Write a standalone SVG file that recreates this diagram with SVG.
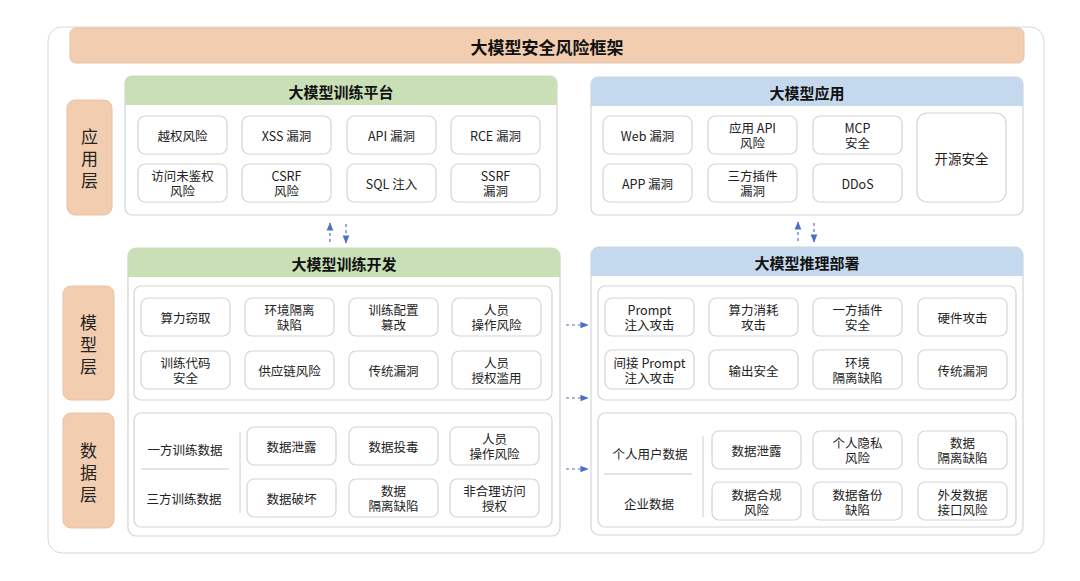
<svg xmlns="http://www.w3.org/2000/svg" width="1080" height="581" viewBox="0 0 1080 581">
<style>
text{font-family:"Noto Sans CJK SC","Noto Sans",sans-serif;fill:#222;text-anchor:middle;dominant-baseline:central}
.b{fill:#fff;stroke:#d4d4d4;stroke-width:1.2}
.t{font-size:12.5px}
.h{font-size:15px;font-weight:bold;fill:#111}
.lay{fill:#f2cdb0;stroke:#e6c4a8}
.ly{font-size:17px}
.c{stroke:#4a72c4;stroke-width:1.2;stroke-dasharray:3 3;fill:none}
.sep{stroke:#ccc;stroke-width:1}
</style>
<defs><marker id="a" viewBox="0 0 10 10" refX="9" refY="5" markerWidth="7" markerHeight="7" orient="auto"><path d="M0,1 L10,5 L0,9z" fill="#4a72c4"/></marker></defs>
<rect width="1080" height="581" fill="#fff"/>
<rect x="48" y="27" width="996" height="526" rx="14" fill="#fff" stroke="#d8d8d8"/>
<g id="title"><rect x="70" y="28" width="954" height="35" rx="6" fill="#f2cdb0" stroke="#e5c3a6"/><text x="547" y="46" class="h" style="font-size:17px">大模型安全风险框架</text></g>
<g id="layers">
<rect class="lay" x="67" y="100" width="45" height="115" rx="8"/><text class="ly" x="89.5" y="135">应</text><text class="ly" x="89.5" y="157">用</text><text class="ly" x="89.5" y="179">层</text>
<rect class="lay" x="63" y="286" width="51" height="114" rx="8"/><text class="ly" x="88.5" y="321">模</text><text class="ly" x="88.5" y="343">型</text><text class="ly" x="88.5" y="365">层</text>
<rect class="lay" x="63" y="413" width="51" height="115" rx="8"/><text class="ly" x="88.5" y="449">数</text><text class="ly" x="88.5" y="471">据</text><text class="ly" x="88.5" y="493">层</text>
</g>
<g id="train-platform">
<rect class="b" x="125" y="76" width="432" height="139" rx="7"/>
<path d="M125,105 V83 a7,7 0 0 1 7,-7 H550 a7,7 0 0 1 7,7 V105z" fill="#c9dfb5"/>
<text class="h" x="341" y="91">大模型训练平台</text>
<rect class="b" x="138" y="116" width="89" height="38" rx="7"/><text class="t" x="182.5" y="135">越权风险</text>
<rect class="b" x="242" y="116" width="89" height="38" rx="7"/><text class="t" x="286.5" y="135">XSS 漏洞</text>
<rect class="b" x="347" y="116" width="89" height="38" rx="7"/><text class="t" x="391.5" y="135">API 漏洞</text>
<rect class="b" x="451" y="116" width="89" height="38" rx="7"/><text class="t" x="495.5" y="135">RCE 漏洞</text>
<rect class="b" x="138" y="164" width="89" height="38" rx="7"/><text class="t" x="182.5" y="175.5">访问未鉴权</text><text class="t" x="182.5" y="190.5">风险</text>
<rect class="b" x="242" y="164" width="89" height="38" rx="7"/><text class="t" x="286.5" y="175.5">CSRF</text><text class="t" x="286.5" y="190.5">风险</text>
<rect class="b" x="347" y="164" width="89" height="38" rx="7"/><text class="t" x="391.5" y="183">SQL 注入</text>
<rect class="b" x="451" y="164" width="89" height="38" rx="7"/><text class="t" x="495.5" y="175.5">SSRF</text><text class="t" x="495.5" y="190.5">漏洞</text>
</g>
<g id="app">
<rect class="b" x="591" y="77" width="432" height="138" rx="7"/>
<path d="M591,106 V84 a7,7 0 0 1 7,-7 H1016 a7,7 0 0 1 7,7 V106z" fill="#c5d9ee"/>
<text class="h" x="807" y="92">大模型应用</text>
<rect class="b" x="603" y="116" width="89" height="38" rx="7"/><text class="t" x="647.5" y="135">Web 漏洞</text>
<rect class="b" x="708" y="116" width="89" height="38" rx="7"/><text class="t" x="752.5" y="127.5">应用 API</text><text class="t" x="752.5" y="142.5">风险</text>
<rect class="b" x="813" y="116" width="89" height="38" rx="7"/><text class="t" x="857.5" y="127.5">MCP</text><text class="t" x="857.5" y="142.5">安全</text>
<rect class="b" x="917" y="113" width="89" height="89" rx="10"/><text class="t" x="961.5" y="157.5" style="font-size:13.5px">开源安全</text>
<rect class="b" x="603" y="164" width="89" height="38" rx="7"/><text class="t" x="647.5" y="183">APP 漏洞</text>
<rect class="b" x="708" y="164" width="89" height="38" rx="7"/><text class="t" x="752.5" y="175.5">三方插件</text><text class="t" x="752.5" y="190.5">漏洞</text>
<rect class="b" x="813" y="164" width="89" height="38" rx="7"/><text class="t" x="857.5" y="183">DDoS</text>
</g>
<g id="train-dev">
<rect class="b" x="128" y="248" width="432" height="288" rx="8"/>
<path d="M128,277 V256 a8,8 0 0 1 8,-8 H552 a8,8 0 0 1 8,8 V277z" fill="#c9dfb5"/>
<text class="h" x="344" y="263">大模型训练开发</text>
<rect class="b" x="134" y="286" width="418" height="114" rx="7"/>
<rect class="b" x="141" y="298" width="89" height="38" rx="7"/><text class="t" x="185.5" y="317">算力窃取</text>
<rect class="b" x="245" y="298" width="89" height="38" rx="7"/><text class="t" x="289.5" y="309.5">环境隔离</text><text class="t" x="289.5" y="324.5">缺陷</text>
<rect class="b" x="349" y="298" width="89" height="38" rx="7"/><text class="t" x="393.5" y="309.5">训练配置</text><text class="t" x="393.5" y="324.5">篡改</text>
<rect class="b" x="452" y="298" width="89" height="38" rx="7"/><text class="t" x="496.5" y="309.5">人员</text><text class="t" x="496.5" y="324.5">操作风险</text>
<rect class="b" x="141" y="351" width="89" height="38" rx="7"/><text class="t" x="185.5" y="362.5">训练代码</text><text class="t" x="185.5" y="377.5">安全</text>
<rect class="b" x="245" y="351" width="89" height="38" rx="7"/><text class="t" x="289.5" y="370">供应链风险</text>
<rect class="b" x="349" y="351" width="89" height="38" rx="7"/><text class="t" x="393.5" y="370">传统漏洞</text>
<rect class="b" x="452" y="351" width="89" height="38" rx="7"/><text class="t" x="496.5" y="362.5">人员</text><text class="t" x="496.5" y="377.5">授权滥用</text>
<rect class="b" x="134" y="413" width="418" height="114" rx="7"/>
<text class="t" x="185" y="449">一方训练数据</text><line class="sep" x1="141" y1="469" x2="229" y2="469"/><text class="t" x="184" y="498">三方训练数据</text>
<line class="sep" x1="240" y1="432" x2="240" y2="513"/>
<rect class="b" x="247" y="427" width="89" height="38" rx="7"/><text class="t" x="291.5" y="446">数据泄露</text>
<rect class="b" x="349" y="427" width="89" height="38" rx="7"/><text class="t" x="393.5" y="446">数据投毒</text>
<rect class="b" x="450" y="427" width="89" height="38" rx="7"/><text class="t" x="494.5" y="438.5">人员</text><text class="t" x="494.5" y="453.5">操作风险</text>
<rect class="b" x="247" y="479" width="89" height="38" rx="7"/><text class="t" x="291.5" y="498">数据破坏</text>
<rect class="b" x="349" y="479" width="89" height="38" rx="7"/><text class="t" x="393.5" y="490.5">数据</text><text class="t" x="393.5" y="505.5">隔离缺陷</text>
<rect class="b" x="450" y="479" width="89" height="38" rx="7"/><text class="t" x="494.5" y="490.5">非合理访问</text><text class="t" x="494.5" y="505.5">授权</text>
</g>
<g id="deploy">
<rect class="b" x="591" y="247" width="432" height="288" rx="8"/>
<path d="M591,276 V255 a8,8 0 0 1 8,-8 H1015 a8,8 0 0 1 8,8 V276z" fill="#c5d9ee"/>
<text class="h" x="807" y="262">大模型推理部署</text>
<rect class="b" x="598" y="286" width="418" height="114" rx="7"/>
<rect class="b" x="605" y="298" width="89" height="38" rx="7"/><text class="t" x="649.5" y="309.5">Prompt</text><text class="t" x="649.5" y="324.5">注入攻击</text>
<rect class="b" x="709" y="298" width="89" height="38" rx="7"/><text class="t" x="753.5" y="309.5">算力消耗</text><text class="t" x="753.5" y="324.5">攻击</text>
<rect class="b" x="813" y="298" width="89" height="38" rx="7"/><text class="t" x="857.5" y="309.5">一方插件</text><text class="t" x="857.5" y="324.5">安全</text>
<rect class="b" x="918" y="298" width="89" height="38" rx="7"/><text class="t" x="962.5" y="317">硬件攻击</text>
<rect class="b" x="605" y="350" width="89" height="39" rx="7"/><text class="t" x="649.5" y="362">间接 Prompt</text><text class="t" x="649.5" y="377">注入攻击</text>
<rect class="b" x="709" y="350" width="89" height="39" rx="7"/><text class="t" x="753.5" y="370">输出安全</text>
<rect class="b" x="813" y="350" width="89" height="39" rx="7"/><text class="t" x="857.5" y="362">环境</text><text class="t" x="857.5" y="377">隔离缺陷</text>
<rect class="b" x="918" y="350" width="89" height="39" rx="7"/><text class="t" x="962.5" y="370">传统漏洞</text>
<rect class="b" x="598" y="413" width="418" height="114" rx="7"/>
<text class="t" x="650" y="453">个人用户数据</text><line class="sep" x1="604" y1="474" x2="692" y2="474"/><text class="t" x="649" y="503">企业数据</text>
<line class="sep" x1="703" y1="436" x2="703" y2="517"/>
<rect class="b" x="712" y="431" width="89" height="38" rx="7"/><text class="t" x="756.5" y="450">数据泄露</text>
<rect class="b" x="813" y="431" width="89" height="38" rx="7"/><text class="t" x="857.5" y="442.5">个人隐私</text><text class="t" x="857.5" y="457.5">风险</text>
<rect class="b" x="918" y="431" width="89" height="38" rx="7"/><text class="t" x="962.5" y="442.5">数据</text><text class="t" x="962.5" y="457.5">隔离缺陷</text>
<rect class="b" x="712" y="482" width="89" height="38" rx="7"/><text class="t" x="756.5" y="494">数据合规</text><text class="t" x="756.5" y="509">风险</text>
<rect class="b" x="813" y="482" width="89" height="38" rx="7"/><text class="t" x="857.5" y="494">数据备份</text><text class="t" x="857.5" y="509">缺陷</text>
<rect class="b" x="918" y="482" width="89" height="38" rx="7"/><text class="t" x="962.5" y="494">外发数据</text><text class="t" x="962.5" y="509">接口风险</text>
</g>
<g id="connectors">
<path class="c" d="M330,242 V223" marker-end="url(#a)"/>
<path class="c" d="M346,224 V243" marker-end="url(#a)"/>
<path class="c" d="M798,241 V222" marker-end="url(#a)"/>
<path class="c" d="M814,223 V242" marker-end="url(#a)"/>
<path class="c" d="M566,325 H588" marker-end="url(#a)"/>
<path class="c" d="M566,398 H588" marker-end="url(#a)"/>
<path class="c" d="M566,469 H588" marker-end="url(#a)"/>
</g>
</svg>
